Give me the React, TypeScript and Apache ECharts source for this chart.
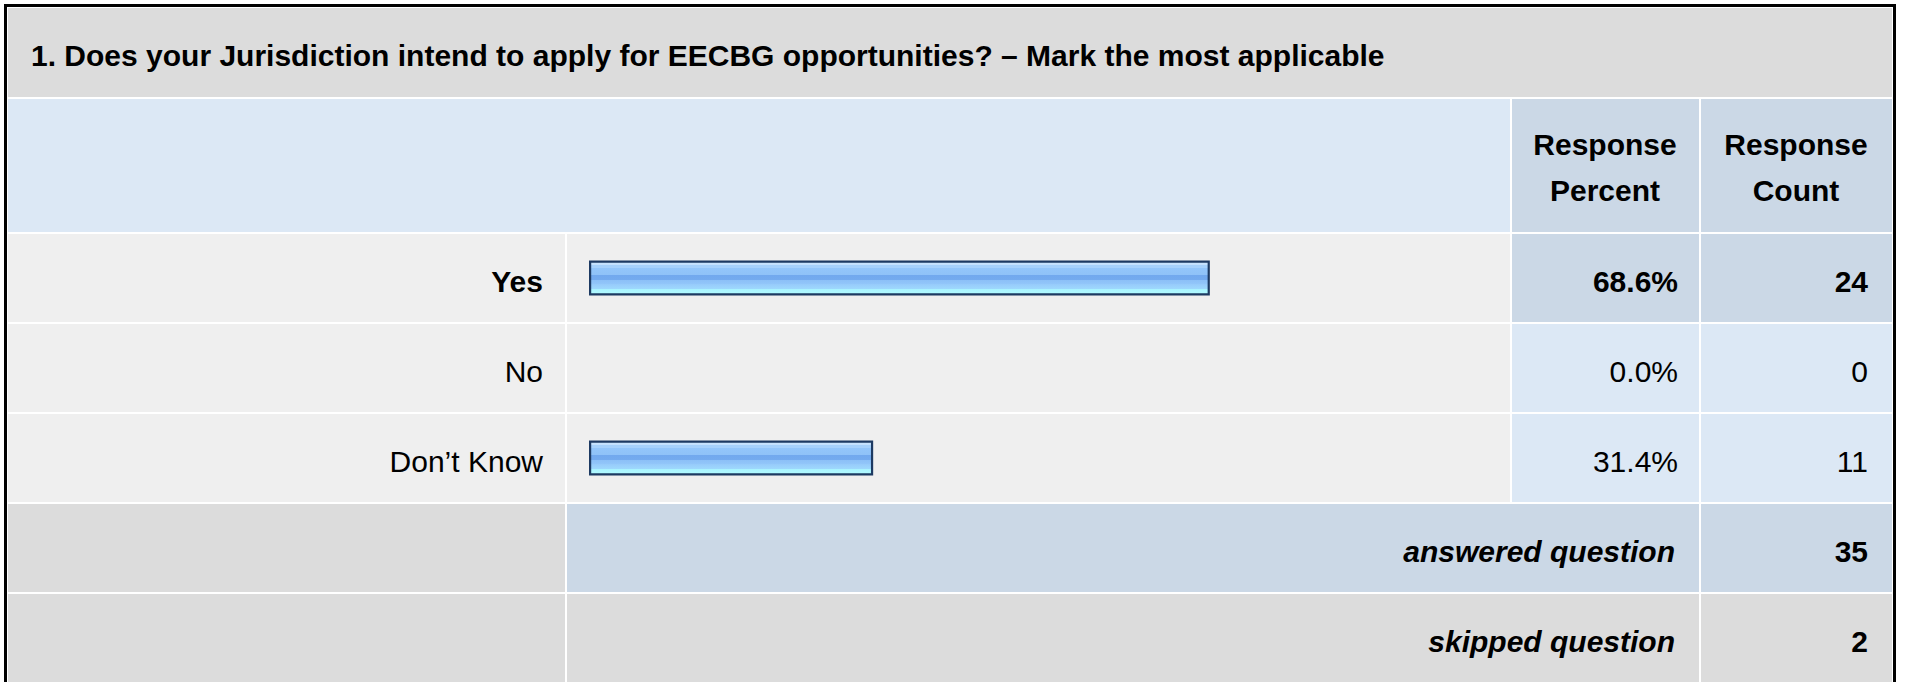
import React, { useEffect, useRef } from "react";
import * as echarts from "echarts";

const questionTitle =
  "1. Does your Jurisdiction intend to apply for EECBG opportunities? – Mark the most applicable";
const headerPercent = "Response\nPercent";
const headerCount = "Response\nCount";
const answerChoices = ["Yes", "No", "Don’t Know"];
const responsePercent = [68.6, 0.0, 31.4];
const responseCount = [24, 0, 11];
const summaryLabels = ["answered question", "skipped question"];
const summaryCounts = [35, 2];

const FONT = '"Liberation Sans", Arial, Helvetica, sans-serif';

export default function App() {
  const ref = useRef<HTMLDivElement>(null);

  useEffect(() => {
    const chart = echarts.init(ref.current as HTMLDivElement, null, { renderer: "svg" });

    const maxCount = Math.max(...responseCount);
    const highlight = responseCount.map((c) => c === maxCount);

    // layout
    const X0 = 8;
    const XR = 1892;
    const labelEnd = 565;
    const barStart = 567;
    const pctStart = 1512;
    const pctEnd = 1699;
    const cntStart = 1701;
    const gridLeft = 589;
    const gridWidth = 905;
    const gridTop = 233;
    const pitch = 90;
    const gridHeight = pitch * answerChoices.length;
    const rowH = 88;
    const summaryTop = gridTop + gridHeight + 1;

    const C_TITLE = "#dcdcdc";
    const C_HEAD = "#dce8f5";
    const C_HEAD_DARK = "#cbd8e6";
    const C_ROW = "#efefef";
    const C_SUM = "#dcdcdc";

    const rect = (x: number, y: number, w: number, h: number, fill: string) => ({
      type: "rect",
      z: -10,
      silent: true,
      shape: { x, y, width: w, height: h },
      style: { fill },
    });
    const text = (
      x: number,
      y: number,
      t: string,
      align: string,
      weight: string,
      style: string = "normal",
      lineHeight?: number
    ) => ({
      type: "text",
      z: 10,
      silent: true,
      x,
      y,
      style: {
        text: t,
        fill: "#000",
        font: `${style} ${weight} 30px ${FONT}`,
        fontFamily: FONT,
        fontSize: 30,
        fontWeight: weight,
        fontStyle: style,
        lineHeight,
        align,
        verticalAlign: "middle",
      },
    });

    const graphics: any[] = [];
    // title row
    graphics.push(rect(X0, 8, XR - X0, 89, C_TITLE));
    // header row
    graphics.push(rect(X0, 99, pctStart - 2 - X0, 133, C_HEAD));
    graphics.push(rect(pctStart, 99, pctEnd - pctStart, 133, C_HEAD_DARK));
    graphics.push(rect(cntStart, 99, XR - cntStart, 133, C_HEAD_DARK));
    // data rows
    answerChoices.forEach((_, i) => {
      const y = gridTop + i * pitch + 1;
      const valFill = highlight[i] ? C_HEAD_DARK : C_HEAD;
      graphics.push(rect(X0, y, labelEnd - X0, rowH, C_ROW));
      graphics.push(rect(barStart, y, pctStart - 2 - barStart, rowH, C_ROW));
      graphics.push(rect(pctStart, y, pctEnd - pctStart, rowH, valFill));
      graphics.push(rect(cntStart, y, XR - cntStart, rowH, valFill));
    });
    // summary rows
    summaryLabels.forEach((lab, i) => {
      const y = summaryTop + i * pitch;
      const fill = i === 0 ? C_HEAD_DARK : C_SUM;
      graphics.push(rect(X0, y, labelEnd - X0, rowH, C_SUM));
      graphics.push(rect(barStart, y, pctEnd - barStart, rowH, fill));
      graphics.push(rect(cntStart, y, XR - cntStart, rowH, fill));
      graphics.push(text(1675, y + rowH / 2 + 3, lab, "right", "bold", "italic"));
      graphics.push(text(1868, y + rowH / 2 + 3, String(summaryCounts[i]), "right", "bold"));
    });
    // texts
    graphics.push(text(31, 55, questionTitle, "left", "bold"));
    graphics.push(text(1605, 167, headerPercent, "center", "bold", "normal", 46));
    graphics.push(text(1796, 167, headerCount, "center", "bold", "normal", 46));
    // outer frame
    graphics.push({
      type: "rect",
      z: 20,
      silent: true,
      shape: { x: 5.5, y: 5.5, width: 1889, height: 720 },
      style: { fill: "none", stroke: "#000", lineWidth: 3 },
    });

    const richStyles = {
      b: { fontFamily: FONT, fontSize: 30, fontWeight: "bold", color: "#000", padding: [6, 0, 0, 0] },
      n: { fontFamily: FONT, fontSize: 30, fontWeight: "normal", color: "#000", padding: [6, 0, 0, 0] },
    };
    const fmt = (value: string, index: number) =>
      highlight[index] ? `{b|${value}}` : `{n|${value}}`;

    const barGradient = new echarts.graphic.LinearGradient(0, 0, 0, 1, [
      { offset: 0, color: "#cce6fd" },
      { offset: 0.09, color: "#c4e1fd" },
      { offset: 0.1, color: "#a6d1fb" },
      { offset: 0.19, color: "#a6d1fb" },
      { offset: 0.2, color: "#93c6fa" },
      { offset: 0.4, color: "#8fc2f8" },
      { offset: 0.42, color: "#72a9ee" },
      { offset: 0.55, color: "#74abef" },
      { offset: 0.57, color: "#8cc0f7" },
      { offset: 0.68, color: "#92c6f9" },
      { offset: 0.7, color: "#98ccfb" },
      { offset: 0.83, color: "#9ed8fd" },
      { offset: 0.85, color: "#aaf4ff" },
      { offset: 1, color: "#b2fbff" },
    ]);

    chart.setOption({
      animation: false,
      backgroundColor: "#ffffff",
      grid: { left: gridLeft, top: gridTop, width: gridWidth, height: gridHeight, containLabel: false },
      xAxis: { type: "value", min: 0, max: 100, show: false },
      yAxis: [
        {
          type: "category",
          inverse: true,
          data: answerChoices,
          position: "left",
          axisLine: { show: false },
          axisTick: { show: false },
          splitLine: { show: false },
          axisLabel: { interval: 0, margin: gridLeft - 543, formatter: fmt, rich: richStyles },
        },
        {
          type: "category",
          inverse: true,
          data: responsePercent.map((v) => v.toFixed(1) + "%"),
          position: "right",
          axisLine: { show: false },
          axisTick: { show: false },
          splitLine: { show: false },
          axisLabel: {
            interval: 0,
            align: "right",
            margin: 1678 - (gridLeft + gridWidth),
            formatter: fmt,
            rich: richStyles,
          },
        },
        {
          type: "category",
          inverse: true,
          data: responseCount.map((v) => String(v)),
          position: "right",
          axisLine: { show: false },
          axisTick: { show: false },
          splitLine: { show: false },
          axisLabel: {
            interval: 0,
            align: "right",
            margin: 1868 - (gridLeft + gridWidth),
            formatter: fmt,
            rich: richStyles,
          },
        },
      ],
      series: [
        {
          type: "bar",
          yAxisIndex: 0,
          barWidth: 35,
          silent: true,
          data: responsePercent.map((v) =>
            v === 0 ? { value: v, itemStyle: { borderWidth: 0, opacity: 0 } } : { value: v }
          ),
          itemStyle: { color: barGradient, borderColor: "#1d3a62", borderWidth: 2.2 },
        },
      ],
      graphic: graphics,
    });

    return () => chart.dispose();
  }, []);

  return (
    <div
      ref={ref}
      style={{ position: "fixed", left: 0, top: 0, width: 1907, height: 682, background: "#fff" }}
    />
  );
}
